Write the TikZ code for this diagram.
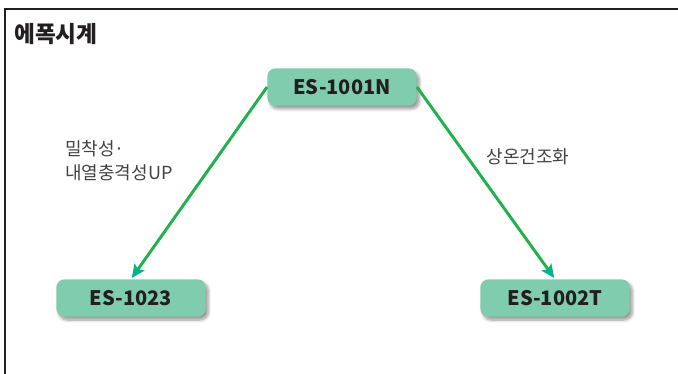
\documentclass[tikz,border=0pt]{standalone}
\usepackage{fontspec}
\setmainfont{Noto Sans CJK KR}
\usepackage{tikz}
\usetikzlibrary{positioning, arrows.meta,
shadows.blur % for the soft shadow under the boxes
}
\definecolor{boxfill}{HTML}{80CCAE}
\definecolor{linegreen}{HTML}{1FB24A}
\definecolor{tipteal}{HTML}{00B48C}
\definecolor{textdark}{HTML}{231F20}
\tikzset{%
  grade/.style={rectangle, rounded corners=6pt, fill=boxfill, text=textdark,
    minimum width=112pt, minimum height=28pt, font=\bfseries\fontsize{15}{17}\selectfont,
    blur shadow={shadow xshift=2pt, shadow yshift=-2.5pt, shadow blur steps=8, shadow opacity=40}},
  route/.style={draw=linegreen, line width=2.2pt, shorten >=1pt,
    -{Stealth[length=10pt, width=9pt, inset=2pt, color=tipteal]}},
  note/.style={text=textdark!85, font=\fontsize{13.5}{18.5}\selectfont, inner sep=0pt}
}
\begin{document}
\begin{tikzpicture}[x=0.75pt, y=-0.75pt]
\useasboundingbox (0,0) rectangle (678,374);

% frame and heading
\draw[line width=1.5pt, color=textdark] (5,374) -- (5,9.5) -- (678,9.5);
\node[anchor=west, text=textdark, font=\bfseries\fontsize{17}{19}\selectfont, inner sep=0pt] (t0) at (14,34) {에폭시계};

% the three grades
\node[grade] (n0) at (342,87) {ES-1001N};
\node[grade] (n1) at (131,298) {ES-1023};
\node[grade] (n2) at (555,298) {ES-1002T};

\draw[route] (n0.west) -- (n1.north);
\draw[route] (n0.east) -- (n2.north);

% what changes along each arrow
\node[note, anchor=north west, align=left] (l0) at (65,140) {밀착성·\\내열충격성UP};
\node[note] (l1) at (528,157) {상온건조화};

\end{tikzpicture}
\end{document}
